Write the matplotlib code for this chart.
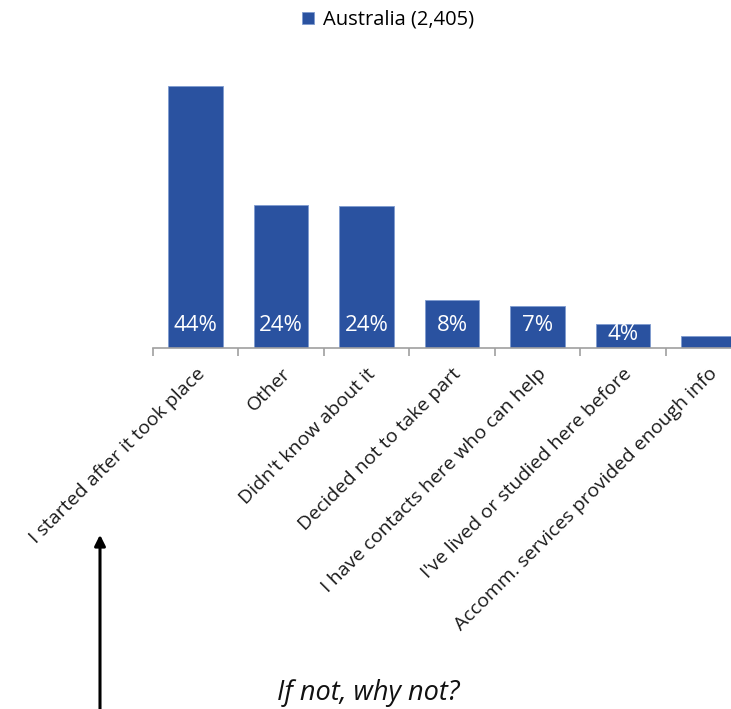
import matplotlib.pyplot as plt

categories = ["I started after it took place", "Other", "Didn't know about it",
              "Decided not to take part", "I have contacts here who can help",
              "I've lived or studied here before", "Accomm. services provided enough info"]
values = [44, 24, 23.8, 8, 7, 4, 2]
labels = ["44%", "24%", "24%", "8%", "7%", "4%", ""]
series_name = "Australia (2,405)"

plt.rcParams['font.family'] = ['Open Sans', 'DejaVu Sans']
bar_color = '#2A52A0'

fig = plt.figure(figsize=(7.31, 7.09), dpi=100)
# axes extends past the right edge, last bar is cut off like in the source
ax = fig.add_axes([153 / 731, 361 / 709, 598 / 731, 268 / 709])

x = range(len(categories))
bars = ax.bar(x, values, width=0.64, color=bar_color, edgecolor='#7F9BCF', linewidth=0.6,
              label=series_name)

for i, (v, lab) in enumerate(zip(values, labels)):
    if not lab:
        continue
    ypos = 3.8 if v >= 7 else 2.2
    ax.text(i, ypos, lab, ha='center', va='center', color='white', fontsize=16)

ax.set_xlim(-0.5, len(categories) - 0.5)
ax.set_ylim(0, 45)
ax.set_yticks([])
for s in ['left', 'right', 'top']:
    ax.spines[s].set_visible(False)
ax.spines['bottom'].set_color('#A0A0A0')
ax.spines['bottom'].set_linewidth(1.2)

ax.set_xticks([i - 0.5 for i in range(len(categories) + 1)], minor=False)
ax.set_xticklabels([])
ax.tick_params(axis='x', which='major', length=6, color='#A0A0A0', width=1.2)
ax.set_xticks(list(x), minor=True)
ax.set_xticklabels(categories, minor=True, rotation=45, ha='right', rotation_mode='anchor',
                   fontsize=14, color='#1A1A1A')
ax.tick_params(axis='x', which='minor', length=0, pad=12)

fig.legend(handles=[bars], labels=[series_name], loc='center', bbox_to_anchor=(388 / 731, 1 - 20 / 709),
           frameon=False, fontsize=14.5, handlelength=0.6, handleheight=0.6, handletextpad=0.4)

fig.text(368 / 731, 1 - 693 / 709, "If not, why not?", ha='center', va='center',
         fontsize=19.5, style='italic', color='#111111')

fig.patches.append(plt.matplotlib.patches.FancyArrowPatch(
    (100 / 731, -0.01), (100 / 731, 1 - 532 / 709), transform=fig.transFigure,
    arrowstyle='-|>', mutation_scale=16, color='black', linewidth=2.2))

fig.savefig("out.png", dpi=100)
